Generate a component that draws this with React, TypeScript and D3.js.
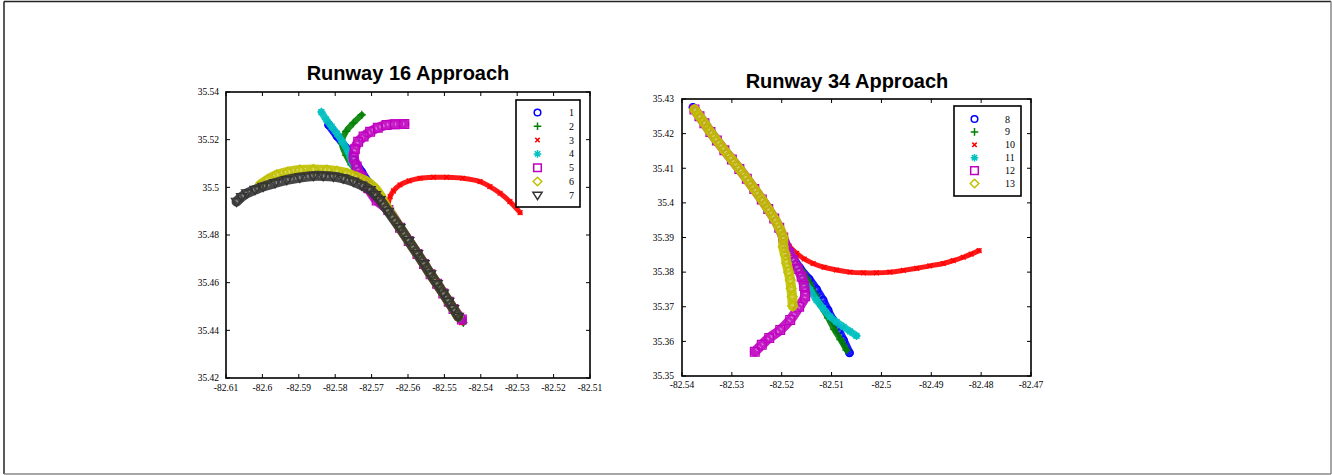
import * as d3 from 'd3';

type Pt = [number, number]; // [longitude, latitude]

// ---------- Runway 16 approach tracks ----------
const rw16Final: Pt[] = [
    [-82.5695, 35.4985], [-82.5654, 35.4905], [-82.5622, 35.4830], [-82.5598, 35.4775],
    [-82.5574, 35.4720], [-82.5556, 35.4678], [-82.5538, 35.4635], [-82.5520, 35.4595],
    [-82.5503, 35.4555], [-82.5488, 35.4520], [-82.5475, 35.4490],
];

const rw16Track1: Pt[] = [
    [-82.5818, 35.5262], [-82.5795, 35.5215], [-82.5770, 35.5165], [-82.5748, 35.5115],
    [-82.5727, 35.5065], [-82.5708, 35.5020], ...rw16Final, [-82.5452, 35.4445],
];
const rw16Track2: Pt[] = [
    [-82.5727, 35.5304], [-82.5750, 35.5270], [-82.5770, 35.5235], [-82.5782, 35.5185],
    [-82.5770, 35.5135], [-82.5755, 35.5094], [-82.5730, 35.5045], ...rw16Final, [-82.5448, 35.4432],
];
const rw16Track3: Pt[] = [
    [-82.5292, 35.4894], [-82.5320, 35.4940], [-82.5347, 35.4975], [-82.5375, 35.5003],
    [-82.5402, 35.5024], [-82.5450, 35.5038], [-82.5494, 35.5042], [-82.5530, 35.5042],
    [-82.5567, 35.5038], [-82.5597, 35.5027], [-82.5622, 35.5010], [-82.5640, 35.4985],
    [-82.5649, 35.4961], [-82.5654, 35.4933], ...rw16Final.slice(1), [-82.5453, 35.4432],
];
const rw16Track4: Pt[] = [
    [-82.5838, 35.5316], [-82.5825, 35.5285], [-82.5810, 35.5255], [-82.5795, 35.5225],
    [-82.5780, 35.5190], [-82.5765, 35.5150], [-82.5754, 35.5105], [-82.5735, 35.5062],
    [-82.5712, 35.5020], ...rw16Final, [-82.5455, 35.4447],
];
const rw16Track5: Pt[] = [
    [-82.5610, 35.5266], [-82.5636, 35.5265], [-82.5659, 35.5262], [-82.5683, 35.5250],
    [-82.5704, 35.5233], [-82.5722, 35.5213], [-82.5737, 35.5191], [-82.5746, 35.5160],
    [-82.5749, 35.5125], [-82.5741, 35.5087], [-82.5727, 35.5045], [-82.5709, 35.4996],
    [-82.5686, 35.4945], ...rw16Final.slice(1), [-82.5452, 35.4445],
];
const rw16Track6: Pt[] = [
    [-82.6007, 35.5010], [-82.5985, 35.5033], [-82.5961, 35.5052], [-82.5930, 35.5065],
    [-82.5897, 35.5073], [-82.5860, 35.5075], [-82.5823, 35.5073], [-82.5795, 35.5068],
    [-82.5768, 35.5059], [-82.5740, 35.5043], [-82.5713, 35.5024], [-82.5692, 35.4998],
    [-82.5677, 35.4968], [-82.5659, 35.4919], ...rw16Final.slice(2), [-82.5462, 35.4457],
];
const rw16Track7: Pt[] = [
    [-82.6071, 35.4940], [-82.6057, 35.4960], [-82.6043, 35.4975], [-82.6020, 35.4990],
    [-82.5998, 35.5003], [-82.5965, 35.5018], [-82.5933, 35.5031], [-82.5897, 35.5041],
    [-82.5860, 35.5048], [-82.5833, 35.5048], [-82.5805, 35.5045], [-82.5778, 35.5037],
    [-82.5750, 35.5024], [-82.5727, 35.5008], [-82.5704, 35.4989], [-82.5690, 35.4968],
    [-82.5677, 35.4947], [-82.5654, 35.4898], ...rw16Final.slice(2), [-82.5462, 35.4457],
];

// ---------- Runway 34 approach tracks ----------
const rw34Final: Pt[] = [
    [-82.5375, 35.4270], [-82.5365, 35.4250], [-82.5355, 35.4230], [-82.5343, 35.4205],
    [-82.5330, 35.4180], [-82.5315, 35.4152], [-82.5300, 35.4125], [-82.5285, 35.4098],
    [-82.5270, 35.4070], [-82.5255, 35.4040], [-82.5240, 35.4010], [-82.5227, 35.3982],
    [-82.5215, 35.3955], [-82.5205, 35.3928], [-82.5197, 35.3900],
];

const rw34Track8: Pt[] = [
    [-82.5378, 35.4276], ...rw34Final.slice(1), [-82.5180, 35.3850], [-82.5163, 35.3811],
    [-82.5145, 35.3780], [-82.5130, 35.3750], [-82.5117, 35.3719], [-82.5107, 35.3690],
    [-82.5097, 35.3662], [-82.5086, 35.3633], [-82.5076, 35.3604], [-82.5064, 35.3567],
];
const rw34Track9: Pt[] = [
    ...rw34Final, [-82.5180, 35.3850], [-82.5160, 35.3805], [-82.5145, 35.3770],
    [-82.5133, 35.3735], [-82.5120, 35.3700], [-82.5107, 35.3668], [-82.5095, 35.3635],
    [-82.5082, 35.3605], [-82.5070, 35.3575],
];
const rw34Track10: Pt[] = [
    [-82.5378, 35.4268], ...rw34Final.slice(1), [-82.5185, 35.3875], [-82.5170, 35.3854],
    [-82.5155, 35.3838], [-82.5137, 35.3825], [-82.5115, 35.3814], [-82.5090, 35.3806],
    [-82.5063, 35.3800], [-82.5036, 35.3798], [-82.5010, 35.3798], [-82.4983, 35.3800],
    [-82.4956, 35.3805], [-82.4929, 35.3811], [-82.4903, 35.3818], [-82.4876, 35.3825],
    [-82.4856, 35.3833], [-82.4836, 35.3843], [-82.4820, 35.3852], [-82.4804, 35.3862],
];
const rw34Track11: Pt[] = [
    ...rw34Final, [-82.5180, 35.3850], [-82.5165, 35.3805], [-82.5155, 35.3775],
    [-82.5143, 35.3748], [-82.5130, 35.3719], [-82.5117, 35.3695], [-82.5103, 35.3671],
    [-82.5090, 35.3656], [-82.5076, 35.3642], [-82.5063, 35.3629], [-82.5050, 35.3616],
];
const rw34Track12: Pt[] = [
    ...rw34Final, [-82.5185, 35.3855], [-82.5177, 35.3835], [-82.5168, 35.3810],
    [-82.5160, 35.3787], [-82.5155, 35.3760], [-82.5153, 35.3730], [-82.5165, 35.3700],
    [-82.5183, 35.3662], [-82.5203, 35.3633], [-82.5225, 35.3610], [-82.5240, 35.3590],
    [-82.5254, 35.3570],
];
const rw34Track13: Pt[] = [
    ...rw34Final, [-82.5197, 35.3873], [-82.5193, 35.3850], [-82.5190, 35.3825],
    [-82.5186, 35.3800], [-82.5183, 35.3777], [-82.5181, 35.3753], [-82.5179, 35.3729],
    [-82.5178, 35.3702],
];

const rw16Tracks = [rw16Track1, rw16Track2, rw16Track3, rw16Track4, rw16Track5, rw16Track6, rw16Track7];
const rw34Tracks = [rw34Track8, rw34Track9, rw34Track10, rw34Track11, rw34Track12, rw34Track13];
const rw16Labels = ['1', '2', '3', '4', '5', '6', '7'];
const rw34Labels = ['8', '9', '10', '11', '12', '13'];

const rw16LonTicks = [-82.61, -82.6, -82.59, -82.58, -82.57, -82.56, -82.55, -82.54, -82.53, -82.52, -82.51];
const rw16LatTicks = [35.42, 35.44, 35.46, 35.48, 35.5, 35.52, 35.54];
const rw34LonTicks = [-82.54, -82.53, -82.52, -82.51, -82.5, -82.49, -82.48, -82.47];
const rw34LatTicks = [35.35, 35.36, 35.37, 35.38, 35.39, 35.4, 35.41, 35.42, 35.43];

// marker style per series slot (gnuplot-like point types)
const styles = [
    { kind: 'circle', color: '#0000ff', r: 3.8, lr: 3.3, band: 8 },
    { kind: 'plus', color: '#008000', r: 4.2, lr: 3.8, band: 6 },
    { kind: 'x', color: '#ff0000', r: 2.4, lr: 2.2, band: 5 },
    { kind: 'star', color: '#00c0c0', r: 4.2, lr: 3.8, band: 7 },
    { kind: 'square', color: '#c000c0', r: 4.4, lr: 3.8, band: 10 },
    { kind: 'diamond', color: '#c0c000', r: 5, lr: 4.3, band: 10 },
    { kind: 'triangle', color: '#333333', r: 5.2, lr: 4.6, band: 10 },
];

const serif = '"Liberation Serif", "DejaVu Serif", serif';
const sans = '"Liberation Sans", Arial, sans-serif';

function markerPath(kind: string, r: number): string {
    switch (kind) {
        case 'circle':
            return d3.symbol(d3.symbolCircle, Math.PI * r * r)() || '';
        case 'plus':
            return `M${-r},0H${r}M0,${-r}V${r}`;
        case 'x':
            return `M${-r},${-r}L${r},${r}M${-r},${r}L${r},${-r}`;
        case 'star': {
            const d = r * 0.7;
            return `M${-r},0H${r}M0,${-r}V${r}M${-d},${-d}L${d},${d}M${-d},${d}L${d},${-d}`;
        }
        case 'square':
            return `M${-r},${-r}H${r}V${r}H${-r}Z`;
        case 'diamond':
            return `M0,${-r}L${r},0L0,${r}L${-r},0Z`;
        default:
            return `M${-r},${-r * 0.65}H${r}L0,${r * 0.95}Z`;
    }
}

const fmt = (v: number) => String(+v.toFixed(2));

interface PanelProps {
    title: string;
    titleX: number;
    titleY: number;
    box: { left: number; top: number; right: number; bottom: number };
    xDomain: [number, number];
    yDomain: [number, number];
    xTicks: number[];
    yTicks: number[];
    tracks: Pt[][];
    labels: string[];
    legend: { x: number; y: number; w: number; h: number; mx: number; lx: number; row0: number; step: number };
    yPad: number;
    xPad: number;
}

function Panel(p: PanelProps) {
    const { box } = p;
    const x = d3.scaleLinear().domain(p.xDomain).range([box.left, box.right]);
    const y = d3.scaleLinear().domain(p.yDomain).range([box.bottom, box.top]);
    const line = d3.line<Pt>()
        .x(d => x(d[0]))
        .y(d => y(d[1]))
        .curve(d3.curveCatmullRom.alpha(0.5));
    const tick = 4;

    return (
        <g>
            <text x={p.titleX} y={p.titleY} textAnchor="middle" fontFamily={sans} fontWeight="bold" fontSize={20}>
                {p.title}
            </text>

            {/* tracks: dense overlapping markers rendered as a band plus the sampled points */}
            <g>
                {p.tracks.map((trk, i) => {
                    const s = styles[i];
                    const hollow = s.kind !== 'plus' && s.kind !== 'x' && s.kind !== 'star';
                    const d = line(trk) || '';
                    return (
                        <g key={i}>
                            <path d={d} fill="none" stroke={s.color} strokeWidth={s.band}
                                strokeLinecap="round" strokeLinejoin="round" opacity={0.9} />
                            {hollow && (
                                <path d={d} fill="none" stroke="#fff" strokeWidth={s.band * 0.3}
                                    strokeDasharray="1.5 2.5" opacity={0.35} />
                            )}
                            {trk.map((pt, j) => (
                                <path key={j} d={markerPath(s.kind, s.r)}
                                    transform={`translate(${x(pt[0])},${y(pt[1])})`}
                                    fill="none" stroke={s.color} strokeWidth={1.2} />
                            ))}
                        </g>
                    );
                })}
            </g>

            {/* frame */}
            <rect x={box.left} y={box.top} width={box.right - box.left} height={box.bottom - box.top}
                fill="none" stroke="#000" strokeWidth={1.6} />

            {/* x ticks, mirrored */}
            {p.xTicks.map(t => (
                <g key={'x' + t}>
                    <line x1={x(t)} x2={x(t)} y1={box.bottom} y2={box.bottom - tick} stroke="#000" />
                    <line x1={x(t)} x2={x(t)} y1={box.top} y2={box.top + tick} stroke="#000" />
                    <text x={x(t)} y={box.bottom + p.xPad} textAnchor="middle" fontFamily={serif} fontSize={9.5}>
                        {fmt(t)}
                    </text>
                </g>
            ))}

            {/* y ticks, mirrored */}
            {p.yTicks.map(t => (
                <g key={'y' + t}>
                    <line x1={box.left} x2={box.left + tick} y1={y(t)} y2={y(t)} stroke="#000" />
                    <line x1={box.right} x2={box.right - tick} y1={y(t)} y2={y(t)} stroke="#000" />
                    <text x={box.left - p.yPad} y={y(t)} dy="0.35em" textAnchor="end" fontFamily={serif} fontSize={9.5}>
                        {fmt(t)}
                    </text>
                </g>
            ))}

            {/* legend */}
            <g transform={`translate(${p.legend.x},${p.legend.y})`}>
                <rect width={p.legend.w} height={p.legend.h} fill="#fff" stroke="#000" strokeWidth={1.6} />
                {p.labels.map((lab, i) => {
                    const s = styles[i];
                    const cy = p.legend.row0 + i * p.legend.step;
                    return (
                        <g key={lab}>
                            <path d={markerPath(s.kind, s.lr)} transform={`translate(${p.legend.mx},${cy})`}
                                fill="none" stroke={s.color} strokeWidth={1.5} />
                            <text x={p.legend.lx} y={cy} dy="0.35em" fontFamily={serif} fontSize={10}>
                                {lab}
                            </text>
                        </g>
                    );
                })}
            </g>
        </g>
    );
}

export default function App() {
    return (
        <div>
            <style>{'body{margin:0}'}</style>
            <svg width={1332} height={475} style={{ display: 'block', background: '#fff' }}>
                {/* outer border */}
                <line x1={4} x2={1331} y1={1.5} y2={1.5} stroke="#222" strokeWidth={1.5} />
                <line x1={4} x2={4} y1={1.5} y2={474} stroke="#222" strokeWidth={1.5} />
                <line x1={1331} x2={1331} y1={1.5} y2={474} stroke="#888" strokeWidth={1.5} />
                <line x1={4} x2={1331} y1={474} y2={474} stroke="#888" strokeWidth={1.5} />

                <Panel
                    title="Runway 16 Approach"
                    titleX={408}
                    titleY={80}
                    box={{ left: 226, top: 92, right: 590, bottom: 378 }}
                    xDomain={[-82.61, -82.51]}
                    yDomain={[35.42, 35.54]}
                    xTicks={rw16LonTicks}
                    yTicks={rw16LatTicks}
                    tracks={rw16Tracks}
                    labels={rw16Labels}
                    legend={{ x: 516, y: 100, w: 64, h: 107, mx: 21.5, lx: 53, row0: 12.5, step: 13.8 }}
                    yPad={7}
                    xPad={13}
                />
                <Panel
                    title="Runway 34 Approach"
                    titleX={847}
                    titleY={88}
                    box={{ left: 682, top: 99, right: 1031, bottom: 376 }}
                    xDomain={[-82.54, -82.47]}
                    yDomain={[35.35, 35.43]}
                    xTicks={rw34LonTicks}
                    yTicks={rw34LatTicks}
                    tracks={rw34Tracks}
                    labels={rw34Labels}
                    legend={{ x: 954, y: 106, w: 67, h: 90, mx: 20.5, lx: 51, row0: 13, step: 12.9 }}
                    yPad={8}
                    xPad={12}
                />
            </svg>
        </div>
    );
}
